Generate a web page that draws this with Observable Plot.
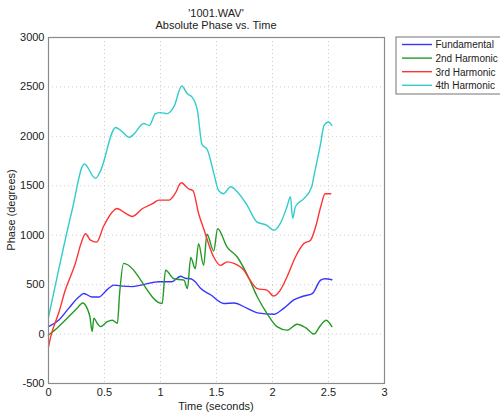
<!DOCTYPE html>
<html>
<head>
<meta charset="utf-8">
<script src="https://cdn.jsdelivr.net/npm/d3@7"></script>
<script src="https://cdn.jsdelivr.net/npm/@observablehq/plot@0.6"></script>
<style>
  html, body { margin: 0; padding: 0; background: #fff; }
  svg { font-family: "Liberation Sans", Arial, sans-serif; }
</style>
</head>
<body>
<div id="chart"></div>
<script>
const titleLines = ["'1001.WAV'", "Absolute Phase vs. Time"];
const xLabel = "Time (seconds)";
const yLabel = "Phase (degrees)";
const seriesNames = ["Fundamental", "2nd Harmonic", "3rd Harmonic", "4th Harmonic"];
const seriesColors = ["#3535ff", "#239a23", "#ff3333", "#33cccc"];
const xTicks = [0, 0.5, 1, 1.5, 2, 2.5, 3];
const yTicks = [-500, 0, 500, 1000, 1500, 2000, 2500, 3000];

const fundT = [0, 0.09, 0.18, 0.27, 0.315, 0.39, 0.45, 0.52, 0.585, 0.66, 0.75, 0.865, 0.985, 1.10, 1.18, 1.22, 1.27, 1.31, 1.36, 1.45, 1.565, 1.655, 1.775, 1.865, 2.01, 2.10, 2.19, 2.28, 2.355, 2.43, 2.47, 2.53];
const fundV = [75, 140, 260, 375, 410, 375, 375, 445, 495, 485, 480, 505, 530, 530, 585, 565, 560, 530, 460, 395, 310, 315, 260, 215, 200, 260, 345, 385, 410, 545, 560, 550];

const h2T = [0, 0.09, 0.18, 0.255, 0.305, 0.345, 0.37, 0.39, 0.405, 0.435, 0.465, 0.525, 0.57, 0.615, 0.635, 0.67, 1.015, 1.045, 1.12, 1.21, 1.24, 1.27, 1.31, 1.34, 1.385, 1.415, 1.475, 1.51, 1.595, 1.685, 1.775, 1.865, 1.95, 2.04, 2.13, 2.22, 2.295, 2.37, 2.43, 2.48, 2.53];
const h2V = [-10, 75, 175, 260, 315, 260, 175, 25, 160, 110, 75, 125, 140, 110, 410, 715, 310, 645, 560, 545, 460, 775, 662, 915, 695, 1010, 840, 1065, 880, 780, 600, 375, 210, 75, 40, 100, 65, 0, 90, 140, 75];

const h3T = [0, 0.02, 0.09, 0.15, 0.24, 0.29, 0.33, 0.375, 0.43, 0.49, 0.57, 0.61, 0.69, 0.75, 0.84, 0.93, 0.985, 1.075, 1.13, 1.185, 1.25, 1.29, 1.34, 1.39, 1.475, 1.535, 1.595, 1.655, 1.745, 1.80, 1.865, 1.95, 2.01, 2.07, 2.13, 2.205, 2.28, 2.34, 2.385, 2.43, 2.47, 2.52];
const h3V = [-130, -25, 210, 445, 715, 915, 1015, 950, 930, 1085, 1235, 1270, 1220, 1190, 1270, 1320, 1355, 1355, 1420, 1530, 1470, 1450, 1220, 1050, 780, 695, 730, 715, 645, 545, 460, 445, 385, 445, 580, 780, 915, 950, 1085, 1285, 1420, 1420];

const h4T = [0, 0.1, 0.21, 0.32, 0.42, 0.46, 0.6, 0.66, 0.72, 0.76, 0.85, 0.9, 0.955, 1.0, 1.06, 1.12, 1.19, 1.24, 1.28, 1.33, 1.37, 1.42, 1.475, 1.52, 1.565, 1.625, 1.685, 1.775, 1.86, 1.95, 2.01, 2.07, 2.13, 2.16, 2.18, 2.205, 2.28, 2.35, 2.37, 2.43, 2.46, 2.50, 2.53];
const h4V = [170, 700, 1250, 1720, 1575, 1640, 2090, 2045, 1990, 2020, 2130, 2110, 2230, 2240, 2230, 2300, 2510, 2430, 2400, 2260, 1920, 1860, 1630, 1450, 1420, 1490, 1440, 1300, 1135, 1100, 1050, 1120, 1290, 1390, 1170, 1290, 1370, 1490, 1600, 1930, 2110, 2145, 2110];

const seriesT = [fundT, h2T, h3T, h4T];
const seriesV = [fundV, h2V, h3V, h4V];
const rows = [];
seriesNames.forEach((name, i) => {
  seriesT[i].forEach((t, j) => rows.push({series: name, t, v: seriesV[i][j]}));
});

const W = 500, H = 417;
const mL = 48, mR = 116, mT = 37, mB = 34;

const plot = Plot.plot({
  width: W,
  height: H,
  marginLeft: mL,
  marginRight: mR,
  marginTop: mT,
  marginBottom: mB,
  style: {fontFamily: "Liberation Sans, Arial, sans-serif", fontSize: "11px", color: "#222", background: "#fff"},
  x: {domain: [0, 3], ticks: xTicks, tickFormat: d => String(d), label: null},
  y: {domain: [-500, 3000], ticks: yTicks, tickFormat: d => String(d), label: null},
  color: {domain: seriesNames, range: seriesColors},
  marks: [
    Plot.ruleX(xTicks.slice(1, -1), {stroke: "#cfcfcf", strokeDasharray: "1,3", strokeWidth: 1}),
    Plot.ruleY(yTicks.slice(1, -1), {stroke: "#cfcfcf", strokeDasharray: "1,3", strokeWidth: 1}),
    Plot.line(rows, {x: "t", y: "v", z: "series", stroke: "series", strokeWidth: 1.4, curve: "monotone-x"}),
    Plot.frame({stroke: "#8a8a8a", strokeWidth: 1.2}),
    Plot.axisX({ticks: xTicks, tickSize: 0, tickPadding: 5, tickFormat: d => String(d), label: null, fontSize: 11}),
    Plot.axisY({ticks: yTicks, tickSize: 0, tickPadding: 4, tickFormat: d => String(d), label: null, fontSize: 11})
  ]
});

const svg = d3.select(plot);
const cx = mL + (W - mL - mR) / 2;
// title
svg.append("text").attr("x", cx).attr("y", 17).attr("text-anchor", "middle")
  .attr("font-size", 11).attr("fill", "#222").text(titleLines[0]);
svg.append("text").attr("x", cx).attr("y", 29).attr("text-anchor", "middle")
  .attr("font-size", 11).attr("fill", "#222").text(titleLines[1]);
// axis labels
svg.append("text").attr("x", cx).attr("y", 410).attr("text-anchor", "middle")
  .attr("font-size", 11).attr("fill", "#222").text(xLabel);
svg.append("text").attr("transform", `translate(15,${mT + (H - mT - mB) / 2}) rotate(-90)`)
  .attr("text-anchor", "middle").attr("font-size", 11).attr("fill", "#222").text(yLabel);
// legend
const lg = svg.append("g");
lg.append("rect").attr("x", 396).attr("y", 37).attr("width", 120).attr("height", 57)
  .attr("fill", "#fff").attr("stroke", "#8a8a8a").attr("stroke-width", 1.2);
seriesNames.forEach((name, i) => {
  const yy = 44.5 + i * 13.6;
  lg.append("line").attr("x1", 402).attr("x2", 432).attr("y1", yy).attr("y2", yy)
    .attr("stroke", seriesColors[i]).attr("stroke-width", 1.4);
  lg.append("text").attr("x", 435.5).attr("y", yy + 3.8).attr("text-anchor", "start")
    .attr("font-size", 10).attr("fill", "#222").text(name);
});

document.getElementById("chart").appendChild(plot);
</script>
</body>
</html>
